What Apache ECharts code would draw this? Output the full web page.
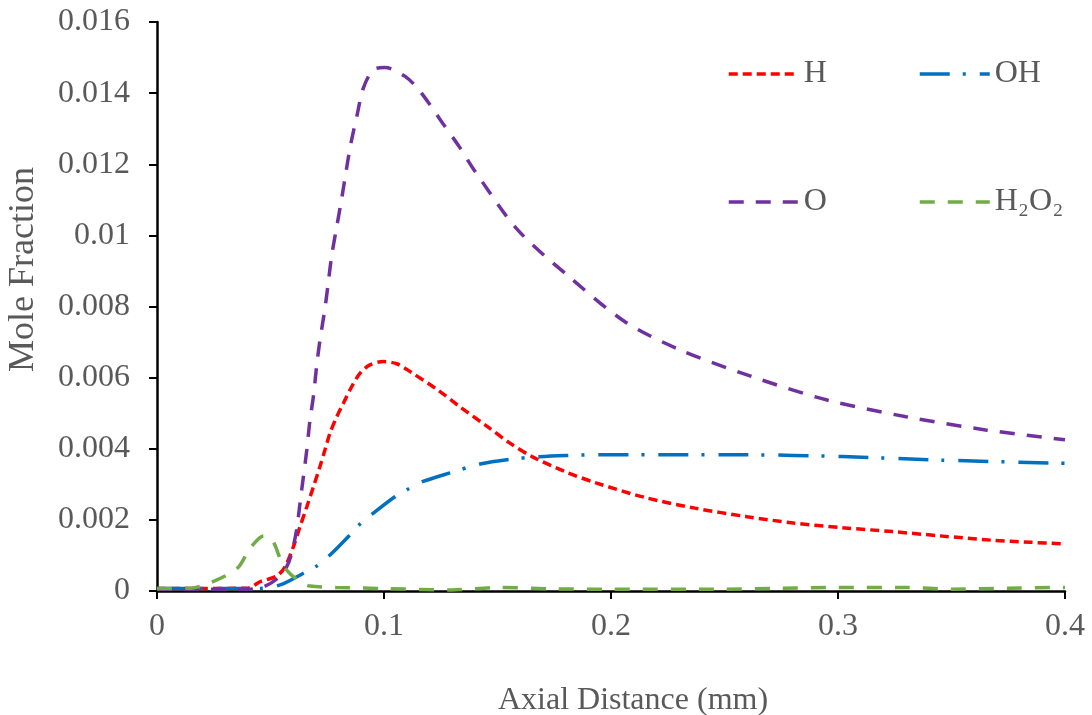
<!DOCTYPE html>
<html>
<head>
<meta charset="utf-8">
<script src="https://cdn.jsdelivr.net/npm/echarts@6/dist/echarts.min.js"></script>
<style>
html,body{margin:0;padding:0;background:#fff;}
#chart{width:1092px;height:715px;}
</style>
</head>
<body>
<div id="chart"></div>
<script>
// ---- data ----
const xTicks = [0, 0.1, 0.2, 0.3, 0.4];
const yTicks = [0, 0.002, 0.004, 0.006, 0.008, 0.01, 0.012, 0.014, 0.016];

const hX = [0, 0.02, 0.04, 0.0454, 0.0527, 0.0564, 0.0601, 0.063, 0.066, 0.0689, 0.0718, 0.074, 0.0762, 0.0792, 0.0821, 0.0858, 0.0894, 0.0938, 0.0997, 0.1056, 0.1115, 0.1238, 0.1330, 0.1456, 0.1550, 0.1652, 0.1800, 0.1934, 0.2150, 0.2370, 0.2600, 0.2804, 0.3020, 0.3240, 0.3450, 0.3674, 0.3850, 0.4];
const hY = [0.00007, 0.00007, 0.00008, 0.00026, 0.00042, 0.00068, 0.00125, 0.00181, 0.00237, 0.00293, 0.0035, 0.00397, 0.00444, 0.0049, 0.00528, 0.00575, 0.00612, 0.00636, 0.00645, 0.00639, 0.00617, 0.00565, 0.00520, 0.00462, 0.00418, 0.00378, 0.00335, 0.00304, 0.00263, 0.00233, 0.00209, 0.00191, 0.00178, 0.00167, 0.00155, 0.00143, 0.00137, 0.00132];

const ohX = [0, 0.02, 0.045, 0.0542, 0.0645, 0.0703, 0.0762, 0.0843, 0.0894, 0.0953, 0.1048, 0.1107, 0.1172, 0.1290, 0.1423, 0.1550, 0.1674, 0.1800, 0.1934, 0.2200, 0.2586, 0.3020, 0.3456, 0.4];
const ohY = [0.00007, 0.00007, 0.00007, 0.00017, 0.0005, 0.0007, 0.00101, 0.00153, 0.00188, 0.00219, 0.00265, 0.00287, 0.00308, 0.00332, 0.00357, 0.00370, 0.00377, 0.00381, 0.00383, 0.00383, 0.00383, 0.00378, 0.00368, 0.00359];

const oX = [0, 0.02, 0.04, 0.047, 0.053, 0.0571, 0.0593, 0.0615, 0.063, 0.0645, 0.066, 0.0674, 0.0689, 0.0703, 0.0718, 0.074, 0.0755, 0.077, 0.0792, 0.0814, 0.0833, 0.0853, 0.088, 0.0909, 0.0953, 0.1004, 0.1093, 0.1159, 0.1260, 0.1335, 0.1400, 0.1588, 0.1815, 0.2060, 0.2304, 0.2620, 0.2952, 0.3300, 0.3650, 0.4];
const oY = [0.00005, 0.00005, 0.00005, 0.00012, 0.00035, 0.00068, 0.00106, 0.00172, 0.00247, 0.00322, 0.00397, 0.00481, 0.00547, 0.00631, 0.00706, 0.00795, 0.0087, 0.00945, 0.01025, 0.01105, 0.0118, 0.01255, 0.01334, 0.01414, 0.01466, 0.01472, 0.01447, 0.01405, 0.01314, 0.01246, 0.01181, 0.01016, 0.00884, 0.00758, 0.00678, 0.00603, 0.00537, 0.00490, 0.00453, 0.00425];

const h2o2X = [0, 0.015, 0.022, 0.030, 0.036, 0.041, 0.047, 0.051, 0.0542, 0.0571, 0.063, 0.0674, 0.079, 0.100, 0.130, 0.150, 0.175, 0.200, 0.250, 0.275, 0.300, 0.330, 0.350, 0.375, 0.4];
const h2o2Y = [0.00007, 0.00008, 0.0002, 0.00042, 0.00068, 0.0012, 0.00155, 0.0014, 0.00092, 0.00059, 0.00026, 0.00014, 0.0001, 0.00007, 0.00003, 0.0001, 0.00006, 0.00005, 0.00005, 0.00008, 0.0001, 0.0001, 0.00005, 0.00008, 0.0001];

const seriesNames = ['H', 'OH', 'O', 'H₂O₂'];
// ------------------------------------------------

const pairs = (xs, ys) => xs.map((x, i) => [x, ys[i]]);
const FONT = '"Liberation Serif", "Times New Roman", serif';
const TXT = '#595959';

function lineSeries(name, xs, ys, color, dash, width) {
  return {
    name: name,
    type: 'line',
    data: pairs(xs, ys),
    smooth: 0.3,
    symbol: 'none',
    showSymbol: false,
    lineStyle: { color: color, width: width, type: dash, cap: 'butt' },
    itemStyle: { color: color },
    emphasis: { disabled: true },
    animation: false,
    z: 3
  };
}

const legendCommon = {
  itemWidth: 70,
  itemHeight: 14,
  itemGap: 0,
  padding: 0,
  selectedMode: false,
  itemStyle: { opacity: 0, borderWidth: 0 },
  lineStyle: { width: 3.5 },
  textStyle: { fontFamily: FONT, fontSize: 32, color: TXT, lineHeight: 32 }
};

const chart = echarts.init(document.getElementById('chart'), null, { renderer: 'canvas' });
chart.setOption({
  backgroundColor: '#ffffff',
  animation: false,
  grid: { left: 157, right: 27, top: 22, bottom: 124, containLabel: false, outerBoundsMode: 'none' },
  legend: [
    Object.assign({ data: [seriesNames[0]], left: 727, top: 58 }, legendCommon),
    Object.assign({ data: [seriesNames[1]], left: 918, top: 58 }, legendCommon),
    Object.assign({ data: [seriesNames[2]], left: 727, top: 186 }, legendCommon),
    Object.assign({ data: [seriesNames[3]], left: 918, top: 186 }, legendCommon)
  ],
  xAxis: {
    type: 'value',
    min: xTicks[0],
    max: xTicks[xTicks.length - 1],
    interval: xTicks[1] - xTicks[0],
    name: 'Axial Distance (mm)',
    nameLocation: 'middle',
    nameGap: 94,
    nameTextStyle: { fontFamily: FONT, fontSize: 32, color: TXT, padding: [0, 0, 0, 44] },
    axisLine: { show: true, onZero: false, lineStyle: { color: '#000', width: 2.5 } },
    axisTick: { show: true, inside: false, length: 8, lineStyle: { color: '#000', width: 2 } },
    axisLabel: { margin: 20, fontFamily: FONT, fontSize: 32, color: TXT },
    splitLine: { show: false }
  },
  yAxis: {
    type: 'value',
    min: yTicks[0],
    max: yTicks[yTicks.length - 1],
    interval: yTicks[1] - yTicks[0],
    name: 'Mole Fraction',
    nameLocation: 'middle',
    nameGap: 115,
    nameRotate: 90,
    nameTextStyle: { fontFamily: FONT, fontSize: 36, color: TXT, padding: [0, 0, 0, 74] },
    axisLine: { show: true, onZero: false, lineStyle: { color: '#000', width: 2.5 } },
    axisTick: { show: true, inside: false, length: 8, lineStyle: { color: '#000', width: 2 } },
    axisLabel: { margin: 27, fontFamily: FONT, fontSize: 32, color: TXT },
    splitLine: { show: false }
  },
  series: [
    lineSeries(seriesNames[0], hX, hY, '#FF0000', [9, 5], 3.5),
    lineSeries(seriesNames[1], ohX, ohY, '#0070C0', [30, 13, 3, 14], 3.5),
    lineSeries(seriesNames[2], oX, oY, '#7030A0', [15, 12], 3.5),
    lineSeries(seriesNames[3], h2o2X, h2o2Y, '#70AD47', [15, 13], 3.5)
  ]
});
</script>
</body>
</html>
